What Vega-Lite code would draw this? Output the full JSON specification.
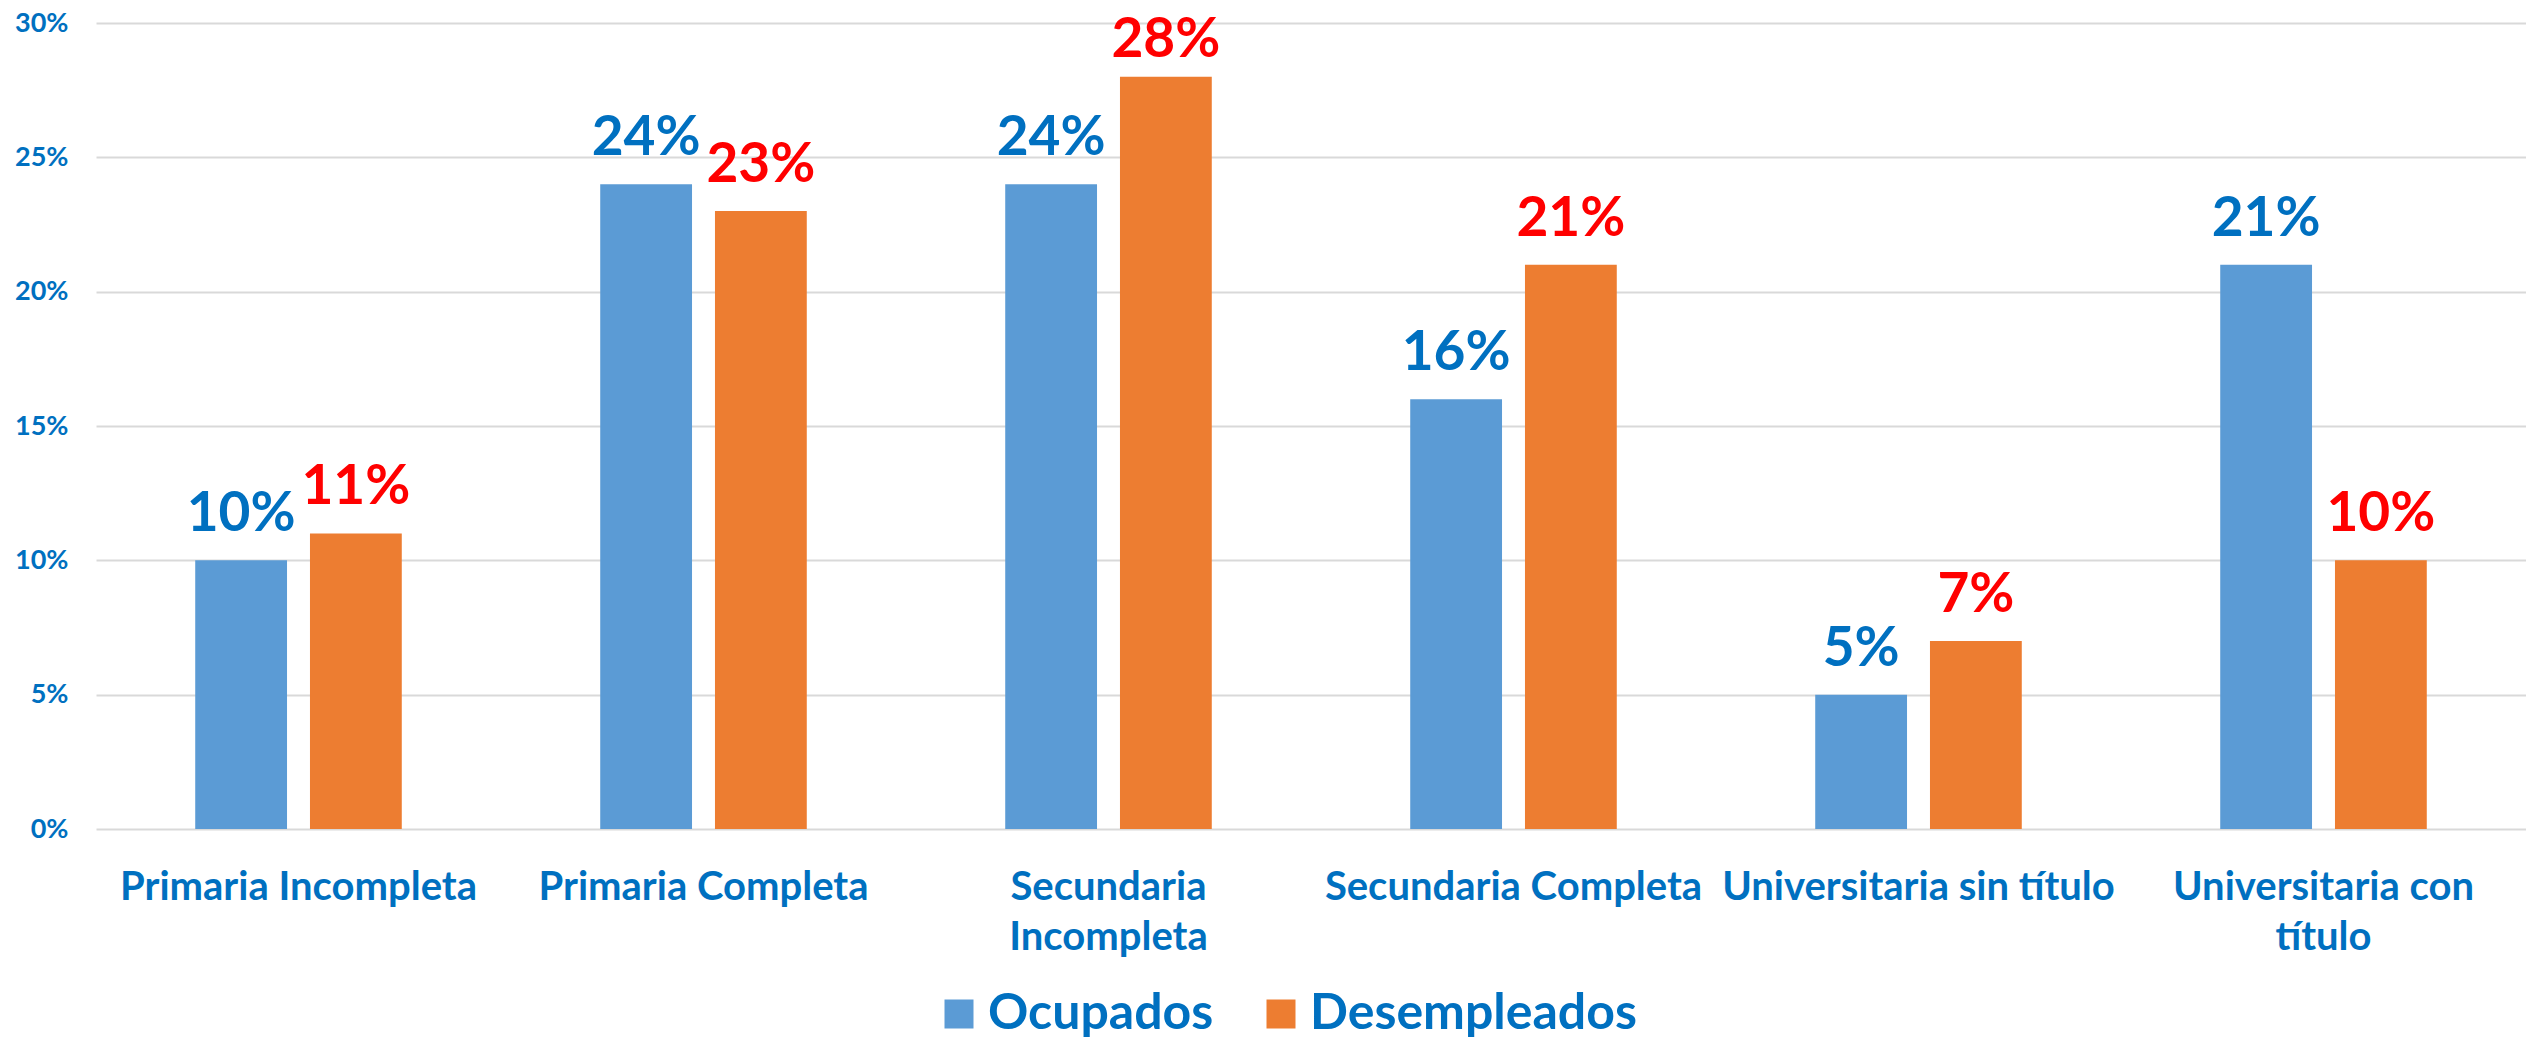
{
  "$schema": "https://vega.github.io/schema/vega-lite/v6.json",
  "width": 2430,
  "height": 806,
  "autosize": "none",
  "padding": {"left": 96, "top": 23, "right": 0, "bottom": 213},
  "background": "white",
  "config": {"font": "Lato", "view": {"stroke": null}},
  "data": {
    "values": [
      {"nivel": "Primaria Incompleta", "serie": "Ocupados", "valor": 0.10},
      {"nivel": "Primaria Incompleta", "serie": "Desempleados", "valor": 0.11},
      {"nivel": "Primaria Completa", "serie": "Ocupados", "valor": 0.24},
      {"nivel": "Primaria Completa", "serie": "Desempleados", "valor": 0.23},
      {"nivel": "Secundaria Incompleta", "serie": "Ocupados", "valor": 0.24},
      {"nivel": "Secundaria Incompleta", "serie": "Desempleados", "valor": 0.28},
      {"nivel": "Secundaria Completa", "serie": "Ocupados", "valor": 0.16},
      {"nivel": "Secundaria Completa", "serie": "Desempleados", "valor": 0.21},
      {"nivel": "Universitaria sin título", "serie": "Ocupados", "valor": 0.05},
      {"nivel": "Universitaria sin título", "serie": "Desempleados", "valor": 0.07},
      {"nivel": "Universitaria con título", "serie": "Ocupados", "valor": 0.21},
      {"nivel": "Universitaria con título", "serie": "Desempleados", "valor": 0.10}
    ]
  },
  "encoding": {
    "x": {
      "field": "nivel",
      "type": "nominal",
      "sort": null,
      "scale": {"paddingInner": 0.49, "paddingOuter": 0.245},
      "axis": {
        "title": null,
        "labelAngle": 0,
        "labelBaseline": "top",
        "labelPadding": 38,
        "labelLineHeight": 50,
        "labelFontSize": 40,
        "labelFontWeight": "bold",
        "labelColor": "#0070C0",
        "labelLimit": 1000,
        "labelOverlap": false,
        "ticks": false,
        "domain": false,
        "labelExpr": "datum.value == 'Secundaria Incompleta' ? ['Secundaria', 'Incompleta'] : datum.value == 'Universitaria con título' ? ['Universitaria con', 'título'] : datum.label"
      }
    },
    "xOffset": {
      "field": "serie",
      "type": "nominal",
      "sort": ["Ocupados", "Desempleados"],
      "scale": {"paddingInner": 0.2, "paddingOuter": 0}
    },
    "y": {
      "field": "valor",
      "type": "quantitative",
      "scale": {"domain": [0, 0.3]},
      "axis": {
        "title": null,
        "values": [0, 0.05, 0.1, 0.15, 0.2, 0.25, 0.3],
        "format": ".0%",
        "grid": true,
        "gridColor": "#D9D9D9",
        "gridWidth": 2,
        "domain": false,
        "ticks": false,
        "labelPadding": 28,
        "labelFontSize": 27,
        "labelFontWeight": "bold",
        "labelColor": "#0070C0"
      }
    }
  },
  "layer": [
    {
      "mark": {"type": "bar"},
      "encoding": {
        "color": {
          "field": "serie",
          "type": "nominal",
          "sort": ["Ocupados", "Desempleados"],
          "scale": {"domain": ["Ocupados", "Desempleados"], "range": ["#5B9BD5", "#ED7D31"]},
          "legend": {
            "title": null,
            "orient": "none",
            "legendX": 838,
            "legendY": 966,
            "direction": "horizontal",
            "symbolType": "square",
            "symbolSize": 841,
            "symbolStrokeWidth": 0,
            "labelFontSize": 50,
            "labelFont": "Lato",
            "labelFontWeight": "bold",
            "labelColor": "#0070C0",
            "labelOffset": 4,
            "labelLimit": 1000,
            "columnPadding": 42
          }
        }
      }
    },
    {
      "transform": [{"filter": "datum.valor < 0.28"}],
      "mark": {"type": "text", "baseline": "alphabetic", "dy": -29, "fontSize": 55, "fontWeight": "bold"},
      "encoding": {
        "text": {"field": "valor", "type": "quantitative", "format": ".0%"},
        "color": {"condition": {"test": "datum.serie === 'Ocupados'", "value": "#0070C0"}, "value": "#FF0000"}
      }
    },
    {
      "transform": [{"filter": "datum.valor >= 0.28"}],
      "mark": {"type": "text", "baseline": "alphabetic", "dy": -20, "fontSize": 55, "fontWeight": "bold"},
      "encoding": {
        "text": {"field": "valor", "type": "quantitative", "format": ".0%"},
        "color": {"condition": {"test": "datum.serie === 'Ocupados'", "value": "#0070C0"}, "value": "#FF0000"}
      }
    }
  ]
}
